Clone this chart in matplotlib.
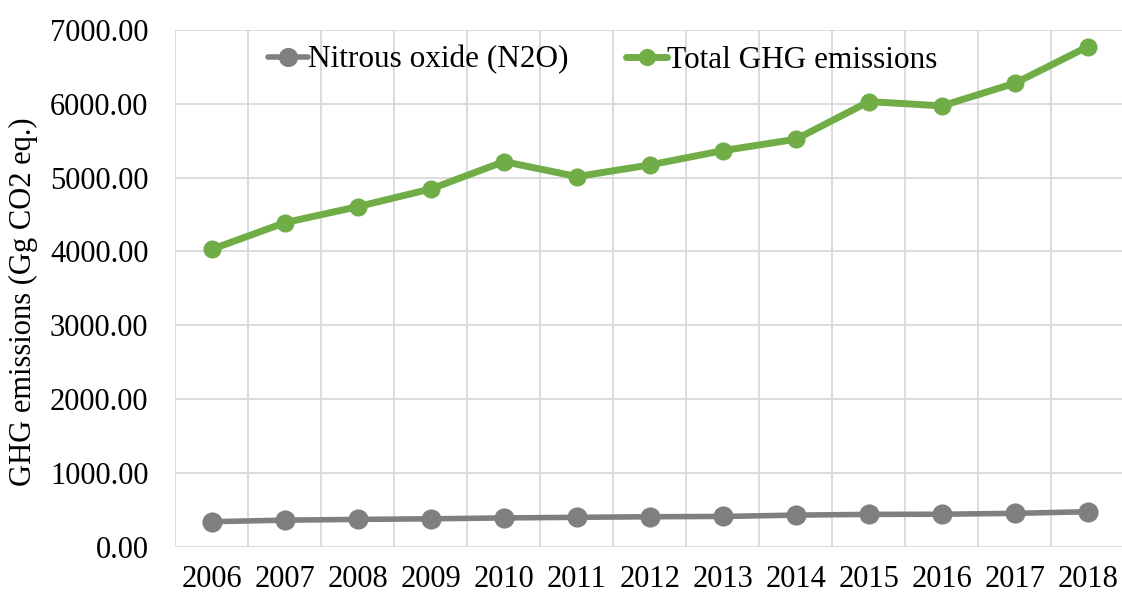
import matplotlib
matplotlib.use("Agg")
import matplotlib.pyplot as plt
import numpy as np

years = ["2006", "2007", "2008", "2009", "2010", "2011", "2012",
         "2013", "2014", "2015", "2016", "2017", "2018"]
n2o = [339, 360, 370, 378, 390, 398, 406, 410, 428, 438, 440, 452, 474]
total_ghg = [4030, 4390, 4607, 4847, 5217, 5014, 5172, 5366, 5520,
             6030, 5972, 6279, 6775]

plt.rcParams["font.family"] = ["Liberation Serif", "DejaVu Serif"]

GRAY = "#7F7F7F"
GREEN = "#70AD47"
GRID = "#D9D9D9"

fig = plt.figure(figsize=(11.22, 5.96), dpi=100)
ax = fig.add_axes([0.1564, 0.0827, 0.8458, 0.867])

x = np.arange(len(years))
ax.plot(x, n2o, color=GRAY, linewidth=4, marker="o", markersize=13.5,
        label="Nitrous oxide (N2O)", zorder=3, solid_capstyle="round")
ax.plot(x, total_ghg, color=GREEN, linewidth=5, marker="o", markersize=12,
        label="Total GHG emissions", zorder=3, solid_capstyle="round")

ax.set_xlim(-0.5, len(years) - 0.5)
ax.set_ylim(0, 7000)
ax.set_xticks(x)
ax.set_xticklabels(years)
ax.set_xticks(np.arange(-0.5, len(years), 1), minor=True)
ax.set_yticks(np.arange(0, 7001, 1000))
ax.set_yticklabels([f"{v:.2f}" for v in range(0, 7001, 1000)])

ax.grid(which="minor", axis="x", color=GRID, linewidth=1.3)
ax.grid(which="major", axis="y", color=GRID, linewidth=1.3)
ax.set_axisbelow(True)
for s in ax.spines.values():
    s.set_visible(False)
ax.tick_params(which="both", length=0)
ax.tick_params(axis="x", labelsize=22, pad=13)
ax.tick_params(axis="y", labelsize=22, pad=19.5)

ax.set_ylabel("GHG emissions (Gg CO2 eq.)", fontsize=22)
ax.yaxis.set_label_coords(-0.145, 0.475)

ax.legend(loc="center", bbox_to_anchor=(0.45, 0.942), ncol=2,
          frameon=False, fontsize=22.5, handlelength=1.3, handletextpad=0.0,
          columnspacing=1.85, markerscale=0.95)

plt.savefig("out.png", dpi=100)
plt.close()
